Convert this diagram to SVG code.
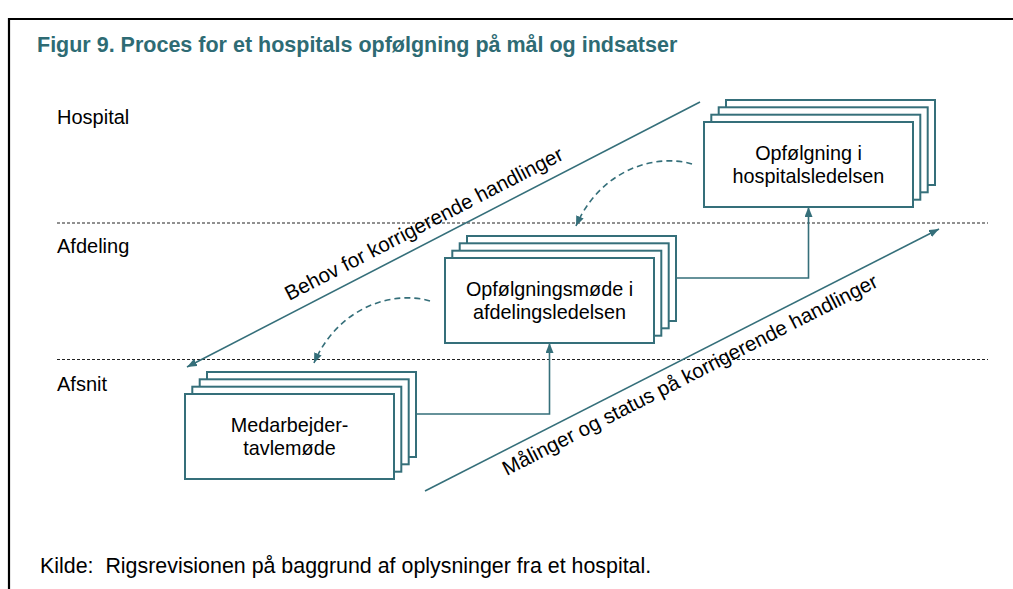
<svg xmlns="http://www.w3.org/2000/svg" width="1013" height="589" viewBox="0 0 1013 589">
<style>
  .frame { fill: none; stroke: #000; stroke-width: 2.2; }
  .title { font-family: "Liberation Sans", Arial, sans-serif; font-weight: bold; font-size: 21.5px; fill: #2E6B74; }
  .lbl { font-family: "Liberation Sans", Arial, sans-serif; font-size: 20px; fill: #000; }
  .src { font-family: "Liberation Sans", Arial, sans-serif; font-size: 21.4px; fill: #000; white-space: pre; }
  .box text { font-family: "Liberation Sans", Arial, sans-serif; font-size: 19.8px; fill: #000; text-anchor: middle; }
  .box rect { fill: #fff; stroke: #356F7A; stroke-width: 2; }
  .lane { stroke: #222; stroke-width: 1; stroke-dasharray: 3 2; fill: none; }
  .conn { stroke: #356F7A; stroke-width: 1.6; fill: none; }
  .dash { stroke: #356F7A; stroke-width: 1.6; fill: none; stroke-dasharray: 6 4; }
  .rot { font-family: "Liberation Sans", Arial, sans-serif; font-size: 20.5px; fill: #000; text-anchor: middle; }
</style>
<defs>
  <marker id="arr" markerUnits="userSpaceOnUse" markerWidth="11" markerHeight="9" refX="10" refY="4" orient="auto">
    <path d="M0,0 L10,4 L0,8 Z" fill="#356F7A"/>
  </marker>
</defs>
<rect x="0" y="0" width="1013" height="589" fill="#fff"/>
<path class="frame" d="M9,589 V19 H1013"/>
<text class="title" x="37" y="52">Figur 9. Proces for et hospitals opfølgning på mål og indsatser</text>
<g id="lanes">
  <text class="lbl" x="57" y="124">Hospital</text>
  <text class="lbl" x="57" y="253">Afdeling</text>
  <text class="lbl" x="57" y="391">Afsnit</text>
  <line class="lane" x1="57" y1="223" x2="988" y2="223"/>
  <line class="lane" x1="57" y1="359.5" x2="988" y2="359.5"/>
</g>
<g id="connectors">
  <path class="conn" d="M700,102 L187,367" marker-end="url(#arr)"/>
  <path class="conn" d="M425,491 L939,229" marker-end="url(#arr)"/>
  <path class="conn" d="M416,414 H549.5 V343" marker-end="url(#arr)"/>
  <path class="conn" d="M676,278 H808.5 V207" marker-end="url(#arr)"/>
  <path class="dash" d="M692,164 C655,153 600,170 576,226" marker-end="url(#arr)"/>
  <path class="dash" d="M430,301 C393,290 338,307 314,363" marker-end="url(#arr)"/>
  <text class="rot" transform="translate(427,230) rotate(-27.3)">Behov for korrigerende handlinger</text>
  <text class="rot" transform="translate(693,381) rotate(-27)">Målinger og status på korrigerende handlinger</text>
</g>
<g id="hospital" class="box">
  <rect x="726" y="100" width="209" height="85"/>
  <rect x="718.7" y="107.3" width="209" height="85"/>
  <rect x="711.3" y="114.7" width="209" height="85"/>
  <rect x="704" y="122" width="209" height="85"/>
  <text x="808.5" y="160">Opfølgning i</text>
  <text x="808.5" y="183">hospitalsledelsen</text>
</g>
<g id="afdeling" class="box">
  <rect x="467" y="236" width="209" height="85"/>
  <rect x="459.7" y="243.3" width="209" height="85"/>
  <rect x="452.3" y="250.7" width="209" height="85"/>
  <rect x="445" y="258" width="209" height="85"/>
  <text x="549.5" y="296">Opfølgningsmøde i</text>
  <text x="549.5" y="319">afdelingsledelsen</text>
</g>
<g id="afsnit" class="box">
  <rect x="207" y="372" width="209" height="85"/>
  <rect x="199.7" y="379.3" width="209" height="85"/>
  <rect x="192.3" y="386.7" width="209" height="85"/>
  <rect x="185" y="394" width="209" height="85"/>
  <text x="289.5" y="432">Medarbejder-</text>
  <text x="289.5" y="455">tavlemøde</text>
</g>
<text class="src" x="40" y="573" xml:space="preserve">Kilde:  Rigsrevisionen på baggrund af oplysninger fra et hospital.</text>
</svg>
